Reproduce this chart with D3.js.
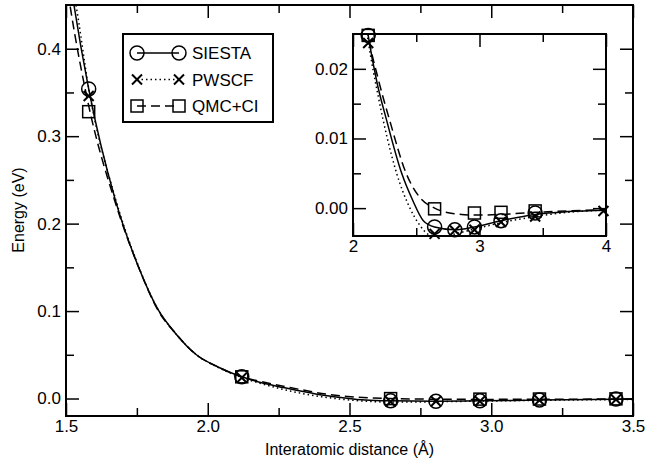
<!DOCTYPE html>
<html>
<head>
<meta charset="utf-8">
<script src="https://cdn.jsdelivr.net/npm/d3@7"></script>
<style>
  body { margin: 0; background: #fff; }
  svg { font-family: "Liberation Sans", Arial, sans-serif; }
  .tick text { font-size: 17px; fill: #000; }
</style>
</head>
<body>
<div id="chart"></div>
<script>
// calculated points
const siestaX = [1.58, 2.12, 2.645, 2.805, 2.96, 3.17, 3.44];
const siestaE = [0.354, 0.0248, -0.0027, -0.0031, -0.0027, -0.0018, -0.0007];
const pwscfX = [1.58, 2.12, 2.645, 2.805, 2.96, 3.17, 3.44, 3.98];
const pwscfE = [0.346, 0.0237, -0.0037, -0.0032, -0.0031, -0.0020, -0.0012, -0.0004];
const qmcX = [1.58, 2.12, 2.645, 2.96, 3.17, 3.44];
const qmcE = [0.328, 0.0248, -0.0001, -0.0007, -0.0006, -0.0004];

// fitted curves as [distance, energy]
const siestaFit = [[1.505,0.50],[1.528,0.45],[1.58,0.354],[1.675,0.226],[1.755,0.151],[1.826,0.101],
  [1.885,0.075],[1.96,0.050],[2.04,0.0355],[2.12,0.0248],[2.19,0.0180],[2.266,0.0126],[2.385,0.0050],
  [2.47,0.0012],[2.556,-0.0018],[2.645,-0.0027],[2.805,-0.0031],[2.96,-0.0027],[3.17,-0.0018],
  [3.44,-0.0009],[3.7,-0.0005],[4.0,-0.0003]];
const pwscfFit = [[1.51,0.49],[1.535,0.45],[1.58,0.355],[1.675,0.228],[1.755,0.152],[1.826,0.101],
  [1.885,0.075],[1.96,0.050],[2.04,0.035],[2.12,0.0240],[2.2,0.0160],[2.345,0.0050],[2.45,0.0000],
  [2.53,-0.0025],[2.6,-0.0038],[2.7,-0.0041],[2.805,-0.0037],[2.96,-0.0030],[3.17,-0.0021],
  [3.44,-0.0012],[3.7,-0.0006],[3.98,-0.0003]];
const qmcFit = [[1.50,0.48],[1.514,0.45],[1.58,0.335],[1.67,0.228],[1.755,0.151],[1.826,0.100],
  [1.885,0.075],[1.96,0.050],[2.04,0.0355],[2.12,0.0248],[2.2,0.0185],[2.29,0.0126],[2.42,0.0050],
  [2.53,0.0015],[2.645,0.0000],[2.8,-0.0008],[2.96,-0.0010],[3.17,-0.0009],[3.44,-0.0006],
  [3.7,-0.0004],[4.0,-0.0002]];

const seriesNames = ["SIESTA", "PWSCF", "QMC+CI"];

const mainXTicks = [1.5, 2.0, 2.5, 3.0, 3.5];
const mainXMinor = [1.75, 2.25, 2.75, 3.25];
const mainYTicks = [0.0, 0.1, 0.2, 0.3, 0.4];
const mainYMinor = [0.05, 0.15, 0.25, 0.35];
const insetXTicks = [2, 3, 4];
const insetXMinor = [2.5, 3.5];
const insetYTicks = [0.00, 0.01, 0.02];
const insetYMinor = [0.005, 0.015];

const width = 647, height = 474;
const svg = d3.select("#chart").append("svg")
  .attr("width", width)
  .attr("height", height);

const series = [
  { name: seriesNames[0], xs: siestaX, es: siestaE, fit: siestaFit, dash: null, marker: "circle" },
  { name: seriesNames[1], xs: pwscfX, es: pwscfE, fit: pwscfFit, dash: "1.5,3", marker: "cross" },
  { name: seriesNames[2], xs: qmcX, es: qmcE, fit: qmcFit, dash: "9,5", marker: "square" }
];

function drawMarker(g, type, cx, cy) {
  if (type === "circle") {
    g.append("circle").attr("cx", cx).attr("cy", cy).attr("r", 7)
      .attr("fill", "none").attr("stroke", "#000").attr("stroke-width", 1.5);
  } else if (type === "square") {
    g.append("rect").attr("x", cx - 6).attr("y", cy - 6).attr("width", 12).attr("height", 12)
      .attr("fill", "none").attr("stroke", "#000").attr("stroke-width", 1.5);
  } else {
    g.append("path").attr("d", `M${cx-5},${cy-5}L${cx+5},${cy+5}M${cx-5},${cy+5}L${cx+5},${cy-5}`)
      .attr("stroke", "#000").attr("stroke-width", 2);
  }
}

function drawPanel(id, x, y, xt, xm, yt, ym, xfmt, yfmt, bg) {
  const [x0, x1] = x.range();
  const [y1, y0] = y.range();
  const g = svg.append("g");

  if (bg) {
    g.append("rect").attr("x", x0).attr("y", y0).attr("width", x1 - x0).attr("height", y1 - y0)
      .attr("fill", "#fff");
  }

  g.append("clipPath").attr("id", id)
    .append("rect").attr("x", x0).attr("y", y0).attr("width", x1 - x0).attr("height", y1 - y0);

  const lines = g.append("g").attr("clip-path", `url(#${id})`);
  const line = d3.line()
    .x(d => x(d[0]))
    .y(d => y(d[1]))
    .curve(d3.curveMonotoneX);

  series.forEach(s => {
    lines.append("path")
      .datum(s.fit)
      .attr("fill", "none")
      .attr("stroke", "#000")
      .attr("stroke-width", 1.5)
      .attr("stroke-dasharray", s.dash)
      .attr("d", line);
  });

  const marks = g.append("g");
  series.forEach(s => {
    s.xs.forEach((xv, i) => {
      if (xv < x.domain()[0] || xv > x.domain()[1]) return;
      drawMarker(marks, s.marker, x(xv), y(s.es[i]));
    });
  });

  // axes with inward ticks on all four sides
  const addAxis = (axis, tr) => {
    const a = g.append("g").attr("transform", tr).call(axis);
    a.select(".domain").remove();
    a.selectAll("line").attr("stroke-width", 1.5);
    return a;
  };
  addAxis(d3.axisBottom(x).tickValues(xt).tickFormat(xfmt).tickSize(-13).tickPadding(4), `translate(0,${y1})`);
  addAxis(d3.axisBottom(x).tickValues(xm).tickFormat("").tickSize(-8), `translate(0,${y1})`);
  addAxis(d3.axisTop(x).tickValues(xt).tickFormat("").tickSize(-13), `translate(0,${y0})`);
  addAxis(d3.axisTop(x).tickValues(xm).tickFormat("").tickSize(-8), `translate(0,${y0})`);
  addAxis(d3.axisLeft(y).tickValues(yt).tickFormat(yfmt).tickSize(-13).tickPadding(5), `translate(${x0},0)`);
  addAxis(d3.axisLeft(y).tickValues(ym).tickFormat("").tickSize(-8), `translate(${x0},0)`);
  addAxis(d3.axisRight(y).tickValues(yt).tickFormat("").tickSize(-13), `translate(${x1},0)`);
  addAxis(d3.axisRight(y).tickValues(ym).tickFormat("").tickSize(-8), `translate(${x1},0)`);

  g.append("rect").attr("x", x0).attr("y", y0).attr("width", x1 - x0).attr("height", y1 - y0)
    .attr("fill", "none").attr("stroke", "#000").attr("stroke-width", 2);
  return g;
}

// main plot
const x = d3.scaleLinear().domain([1.5, 3.5]).range([66, 633]);
const y = d3.scaleLinear().domain([-0.02, 0.45]).range([416, 5]);
drawPanel("clipMain", x, y, mainXTicks, mainXMinor, mainYTicks, mainYMinor,
  d3.format(".1f"), d3.format(".1f"), false);

svg.append("text")
  .attr("x", (66 + 633) / 2)
  .attr("y", 455)
  .attr("text-anchor", "middle")
  .style("font-size", "16px")
  .text("Interatomic distance (Å)");

svg.append("text")
  .attr("transform", "rotate(-90)")
  .attr("x", -210)
  .attr("y", 24)
  .attr("text-anchor", "middle")
  .style("font-size", "16px")
  .text("Energy (eV)");

// inset
const xi = d3.scaleLinear().domain([2, 4]).range([353, 606]);
const yi = d3.scaleLinear().domain([-0.004, 0.025]).range([236, 34]);
drawPanel("clipInset", xi, yi, insetXTicks, insetXMinor, insetYTicks, insetYMinor,
  d3.format("d"), d3.format(".2f"), true);

// legend
const legend = svg.append("g");
legend.append("rect")
  .attr("x", 123).attr("y", 34).attr("width", 150).attr("height", 88)
  .attr("fill", "#fff").attr("stroke", "#000").attr("stroke-width", 2);

series.forEach((s, i) => {
  const ly = 53 + i * 26.5;
  legend.append("line")
    .attr("x1", 137).attr("x2", 179).attr("y1", ly).attr("y2", ly)
    .attr("stroke", "#000").attr("stroke-width", 1.5)
    .attr("stroke-dasharray", s.dash);
  drawMarker(legend, s.marker, 137, ly);
  drawMarker(legend, s.marker, 179, ly);
  legend.append("text")
    .attr("x", 192).attr("y", ly)
    .attr("dy", "0.36em")
    .style("font-size", "17px")
    .text(s.name);
});
</script>
</body>
</html>
